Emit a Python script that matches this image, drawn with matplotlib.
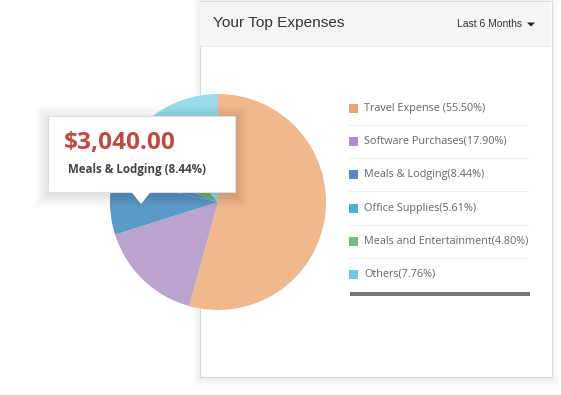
import matplotlib
matplotlib.use('Agg')
import matplotlib.pyplot as plt
from matplotlib.patches import Rectangle, Polygon

# data
categories = ['Travel Expense', 'Software Purchases', 'Meals & Lodging',
              'Office Supplies', 'Meals and Entertainment', 'Others']
# slice sizes as drawn in the picture (measured from the wedge angles)
pie_shares = [54.3, 15.8, 8.4, 2.2, 7.8, 11.5]
legend_labels = ['Travel Expense (55.50%)', 'Software Purchases(17.90%)',
                 'Meals & Lodging(8.44%)', 'Office Supplies(5.61%)',
                 'Meals and Entertainment(4.80%)', 'Others(7.76%)']
pie_colors = ['#F0B88B', '#BBA3CF', '#5A9CC7', '#579FC9', '#6DB86C', '#9BDCEB']
legend_colors = ['#EDA46F', '#B38DC8', '#5B87C7', '#4CB2D3', '#77BB80', '#6CCCDB']
tip_value = '$3,040.00'
tip_label = 'Meals & Lodging (8.44%)'
title = 'Your Top Expenses'
period = 'Last 6 Months'

W, H = 561, 395
fig = plt.figure(figsize=(W / 100, H / 100), dpi=100)
ax = fig.add_axes([0, 0, 1, 1])

# soft shadow helper
def shadow(x, y, w, h, spread, z, alpha=0.01, dy=3):
    for i in range(spread, 0, -1):
        ax.add_patch(Rectangle((x - i + 1, y - i + dy), w + 2 * i - 2, h + 2 * i - 2,
                               facecolor='black', edgecolor='none', alpha=alpha, zorder=z))

# pie (y axis is flipped below, so angles run clockwise on screen)
wedges, _ = ax.pie(pie_shares, colors=pie_colors, startangle=-90, counterclock=True,
                   center=(218, 202), radius=108, frame=True,
                   wedgeprops=dict(linewidth=0))
for w in wedges:
    w.set_zorder(4)

ax.set_xlim(0, W)
ax.set_ylim(H, 0)
ax.set_aspect('auto')
ax.axis('off')

# panel
px, py, pw, ph = 200, 1, 352, 376
shadow(px, py, pw, ph, 8, 1, alpha=0.007)
ax.add_patch(Rectangle((px, py), pw, ph, facecolor='white', edgecolor='#DADADA', lw=0.8, zorder=2))
ax.add_patch(Rectangle((px + 0.5, py + 0.5), pw - 1, 44, facecolor='#F5F5F5', edgecolor='none', zorder=2))
ax.plot([px, px + pw], [45.5, 45.5], color='#ECECEC', lw=0.8, zorder=2)
ax.text(213, 22.5, title, fontsize=11.1, family='Liberation Sans', color='#333333', va='center', zorder=3)
ax.text(457, 24, period, fontsize=7.5, family='Liberation Sans', color='#333333', va='center', zorder=3)
ax.add_patch(Polygon([[527, 22.5], [535, 22.5], [531, 26.5]], closed=True, facecolor='#222222', zorder=3))

# legend
ys = [108, 141, 174, 208, 241, 274]
for i, (lab, col) in enumerate(zip(legend_labels, legend_colors)):
    y = ys[i]
    ax.add_patch(Rectangle((349.5, y - 4), 8.5, 8.5, facecolor=col, edgecolor='none', zorder=3))
    ax.text(364, y, lab, fontsize=7.85, family='Open Sans', color='#666666', va='center', zorder=3)
    if i < len(ys) - 1:
        ax.plot([349, 529], [y + 17, y + 17], color='#EFEFEF', lw=0.7, zorder=3)
ax.add_patch(Rectangle((350, 291.5), 180, 4, facecolor='#777777', edgecolor='none', zorder=3))

# tooltip
tx, ty, tw, th = 48, 116, 187, 76
shadow(tx, ty, tw, th, 14, 5, alpha=0.008, dy=4)
ax.add_patch(Rectangle((tx, ty), tw, th, facecolor='white', edgecolor='#DDDDDD', lw=0.8, zorder=6))
ax.add_patch(Polygon([[131, 191.5], [151, 191.5], [141, 204]], closed=True,
                     facecolor='white', edgecolor='none', zorder=6))
ax.text(64, 143, tip_value, fontsize=17.6, family='Open Sans', weight='bold',
        color='#C4473F', va='center', zorder=7)
ax.text(68, 170, tip_label, fontsize=8.3, family='Open Sans', weight='bold',
        color='#444444', va='center', zorder=7)

fig.savefig('out.png', dpi=100)
